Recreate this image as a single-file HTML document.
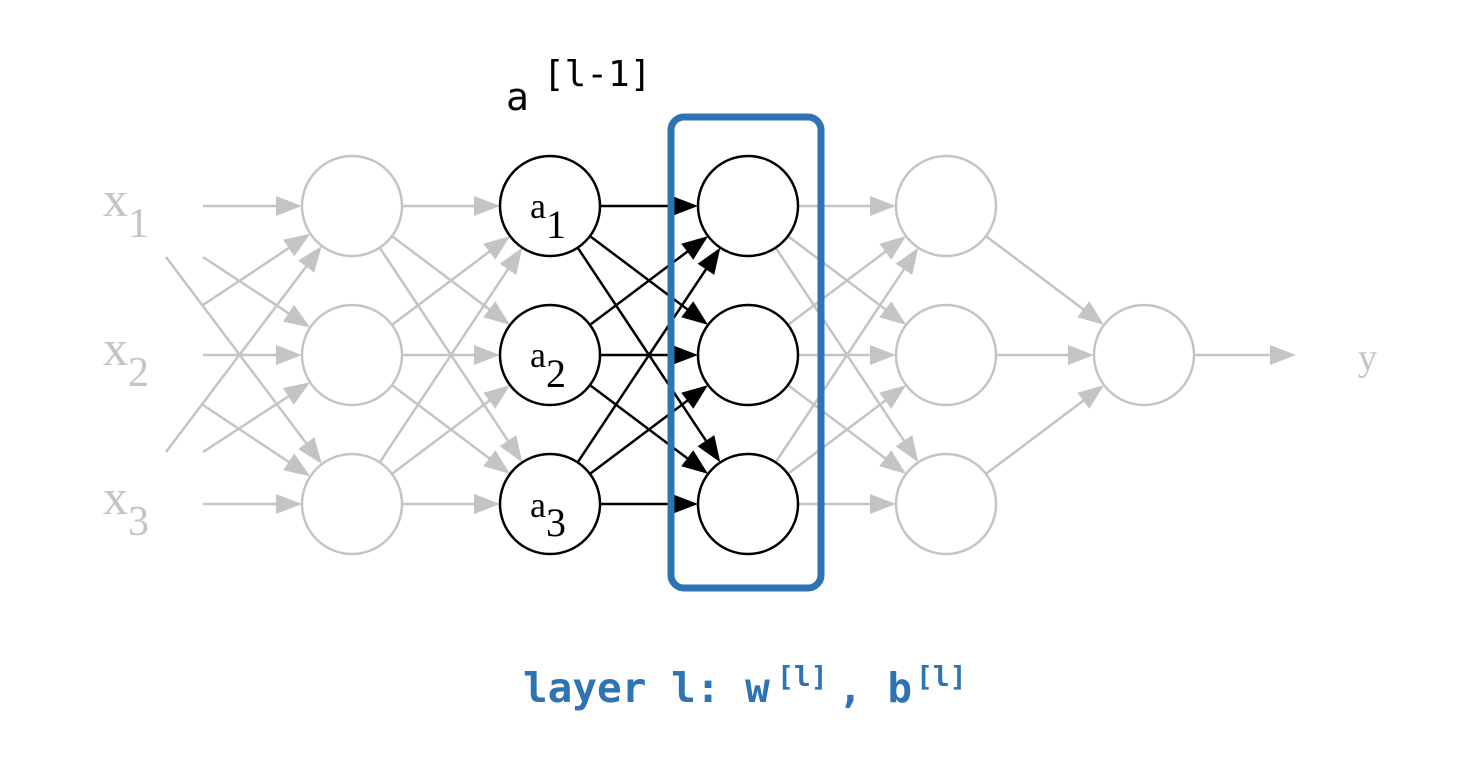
<!DOCTYPE html>
<html><head><meta charset="utf-8"><style>
html,body{margin:0;padding:0;background:#fff;}
svg{display:block;}
</style></head><body>
<svg id="s" width="1468" height="770" viewBox="0 0 1468 770" xmlns="http://www.w3.org/2000/svg">
<g id="lines"></g>
<g id="circles"></g>
<g font-family="Liberation Serif, serif" fill="#c4c4c4">
<text x="103" y="216" font-size="50">x</text><text x="128" y="237" font-size="42">1</text>
<text x="103" y="365" font-size="50">x</text><text x="128" y="386" font-size="42">2</text>
<text x="103" y="514" font-size="50">x</text><text x="128" y="535" font-size="42">3</text>
<text x="1358" y="370" font-size="38">y</text>
</g>
<g font-family="Liberation Serif, serif" fill="#000">
<text x="530" y="218" font-size="36">a</text><text x="546" y="238" font-size="40">1</text>
<text x="530" y="367" font-size="36">a</text><text x="546" y="387" font-size="40">2</text>
<text x="530" y="517" font-size="36">a</text><text x="546" y="536" font-size="40">3</text>
</g>
<g font-family="DejaVu Sans Mono, Liberation Mono, monospace" fill="#000">
<text x="506" y="110" font-size="38">a</text>
<text x="543" y="86" font-size="36">[l-1]</text>
</g>
<rect x="671" y="117" width="150" height="471" rx="13" fill="none" stroke="#2e74b5" stroke-width="7"/>
<g font-family="DejaVu Sans Mono, Liberation Mono, monospace" font-weight="bold" fill="#2e74b5">
<text x="523" y="702" font-size="41">layer l: w</text>
<text x="777" y="686" font-size="28">[l]</text>
<text x="838" y="702" font-size="41">, b</text>
<text x="916" y="686" font-size="28">[l]</text>
</g>
</svg>
<script>
var NS="http://www.w3.org/2000/svg";
var L=document.getElementById("lines"),C=document.getElementById("circles");
var xs=[352,550,748,946],ys=[206,355,504],R=50,AL=26,AW=10;
function el(n,a,p){var e=document.createElementNS(NS,n);for(var k in a)e.setAttribute(k,a[k]);p.appendChild(e);}
function line(x1,y1,x2,y2,black){var col=black?"#000":"#c4c4c4";var dx=x2-x1,dy=y2-y1,d=Math.hypot(dx,dy);dx/=d;dy/=d;
var bx=x2-dx*AL,by=y2-dy*AL;
el("line",{x1:x1,y1:y1,x2:bx+dx*2,y2:by+dy*2,stroke:col,"stroke-width":2.5},L);
var px=-dy,py=dx;
el("polygon",{points:x2+","+y2+" "+(bx+px*AW)+","+(by+py*AW)+" "+(bx-px*AW)+","+(by-py*AW),fill:col},L);}
function circ(x,y,black){el("circle",{cx:x,cy:y,r:R,fill:"#fff",stroke:black?"#000":"#c4c4c4","stroke-width":2.5},C);}
function conn(ax,ay,bx,by,black){var dx=bx-ax,dy=by-ay,d=Math.hypot(dx,dy);dx/=d;dy/=d;line(ax+dx*R,ay+dy*R,bx-dx*R,by-dy*R,black);}
function toC(sx,sy,bx,by){var dx=bx-sx,dy=by-sy,d=Math.hypot(dx,dy);line(sx,sy,bx-dx/d*R,by-dy/d*R,false);}
for(var i=0;i<3;i++) toC(203,ys[i],352,ys[i]);
toC(203,305,352,206);toC(166,452,352,206);
toC(203,257,352,355);toC(203,452,352,355);
toC(166,257,352,504);toC(203,405,352,504);
for(var k=0;k<3;k++){for(var i=0;i<3;i++)for(var j=0;j<3;j++)conn(xs[k],ys[i],xs[k+1],ys[j],k==1);}
for(var i=0;i<3;i++)conn(946,ys[i],1144,355,false);
line(1194,355,1296,355,false);
for(var k=0;k<4;k++)for(var i=0;i<3;i++)circ(xs[k],ys[i],k==1||k==2);
circ(1144,355,false);
</script>
</body></html>
